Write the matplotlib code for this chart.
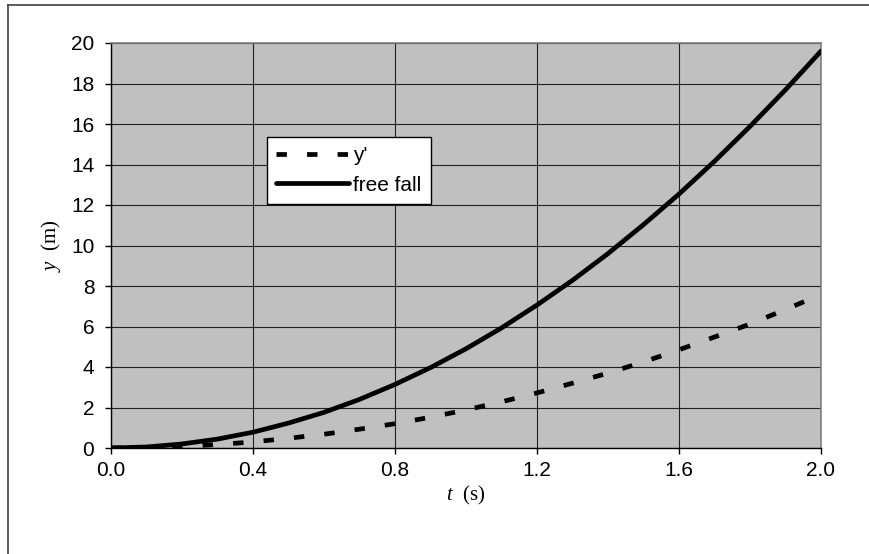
import numpy as np
import matplotlib
matplotlib.use('Agg')
import matplotlib.pyplot as plt
from matplotlib.lines import Line2D

# data
t = [0.0, 0.1, 0.2, 0.3, 0.4, 0.5, 0.6, 0.7, 0.8, 0.9, 1.0,
     1.1, 1.2, 1.3, 1.4, 1.5, 1.6, 1.7, 1.8, 1.9, 2.0]
y_prime = [0.0, 0.02, 0.08, 0.17, 0.30, 0.48, 0.68, 0.93, 1.20, 1.52, 1.88,
           2.28, 2.72, 3.20, 3.70, 4.25, 4.85, 5.48, 6.12, 6.84, 7.58]
free_fall = [0.0, 0.05, 0.20, 0.44, 0.78, 1.23, 1.76, 2.40, 3.14, 3.97, 4.90,
             5.93, 7.06, 8.28, 9.60, 11.03, 12.54, 14.16, 15.88, 17.69, 19.60]
xticks = [0.0, 0.4, 0.8, 1.2, 1.6, 2.0]
yticks = [0, 2, 4, 6, 8, 10, 12, 14, 16, 18, 20]

plt.rcParams['font.family'] = ['Liberation Sans', 'DejaVu Sans']
plt.rcParams['lines.scale_dashes'] = False
plt.rcParams['mathtext.fontset'] = 'custom'
plt.rcParams['mathtext.rm'] = 'Liberation Serif'
plt.rcParams['mathtext.it'] = 'Liberation Serif:italic'

W, H = 870, 554
fig = plt.figure(figsize=(W / 100, H / 100), dpi=100)
ax = fig.add_axes([111 / W, 1 - 448 / H, 710 / W, 405 / H])
ax.set_facecolor('#C0C0C0')

# outer chart frame (only top and left edges visible)
fig.add_artist(Line2D([8.5 / W, 8.5 / W], [0, 1 - 5 / H], transform=fig.transFigure,
                      color='#404040', lw=1.2))
fig.add_artist(Line2D([8.5 / W, 1], [1 - 5 / H, 1 - 5 / H], transform=fig.transFigure,
                      color='#404040', lw=1.2))

ax.plot(t, y_prime, color='black', lw=3.4, dashes=(7.5, 14.5),
        dash_capstyle='butt', label="y'", zorder=3)
ax.plot(t, free_fall, color='black', lw=3.4, solid_capstyle='round',
        label='free fall', zorder=3)

ax.set_xlim(0, 2)
ax.set_ylim(0, 20)
ax.set_xticks(xticks)
ax.set_xticklabels(['%.1f' % v for v in xticks])
ax.set_yticks(yticks)
ax.grid(True, color='#202020', lw=0.8)
ax.set_axisbelow(True)
ax.tick_params(direction='out', length=4, width=1, labelsize=15)
ax.tick_params(axis='y', pad=8)
ax.tick_params(axis='x', pad=5)

for s in ['top', 'right']:
    ax.spines[s].set_color('#808080')
    ax.spines[s].set_linewidth(1.2)
for s in ['left', 'bottom']:
    ax.spines[s].set_color('black')
    ax.spines[s].set_linewidth(1)

ax.set_xlabel(r'$t$  (s)', fontsize=15, family='Liberation Serif', labelpad=3)
ax.set_ylabel(r'$y$  (m)', fontsize=15, family='Liberation Serif', labelpad=6)

leg = ax.legend(loc='upper left', bbox_to_anchor=((267 - 111) / 710, (448 - 137) / 405),
                borderaxespad=0, fontsize=15, frameon=True, fancybox=False,
                framealpha=1, edgecolor='black', handlelength=3.5,
                handletextpad=0.2, borderpad=0.45, labelspacing=0.5)
leg.get_frame().set_linewidth(1)

fig.savefig('out.png', dpi=100)
